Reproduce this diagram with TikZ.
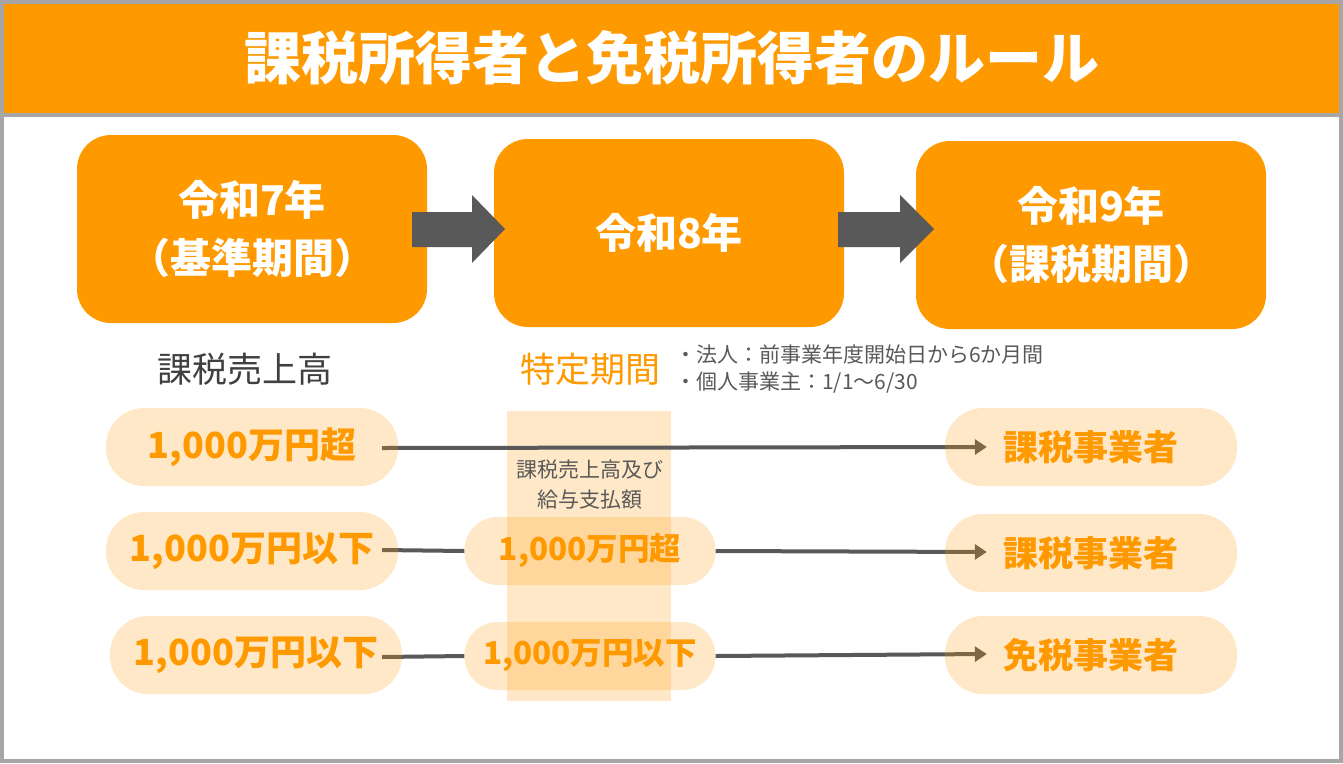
\documentclass[tikz,border=0pt]{standalone}
\usepackage{fontspec}
\setmainfont{Noto Sans CJK JP}
\usetikzlibrary{arrows.meta,calc}
\pgfdeclarelayer{back}
\pgfsetlayers{back,main}
\definecolor{og}{HTML}{FF9900}
\definecolor{frame}{HTML}{A6A6A6}
\definecolor{dk}{HTML}{595959}
\definecolor{tx}{HTML}{404040}
\tikzset{
  yearbox/.style={fill=og, rounded corners=34pt, minimum width=350pt, minimum height=188pt,
    text=white, font=\fontsize{41}{58}\selectfont\bfseries, align=center, inner sep=0pt},
  pill/.style={fill=og, fill opacity=0.22, text opacity=1, rounded corners=38pt,
    minimum width=292pt, minimum height=78pt, text=og, inner sep=0pt,
    font=\fontsize{36}{40}\selectfont\bfseries},
  midpill/.style={pill, minimum width=251pt, minimum height=68pt, rounded corners=33pt,
    font=\fontsize{31.5}{36}\selectfont\bfseries},
  respill/.style={pill, font=\fontsize{35}{40}\selectfont\bfseries},
  conn/.style={draw=dk, line width=4pt},
  connarrow/.style={conn, -{Triangle[length=12pt,width=15pt]}},
  blockarrow/.style={fill=dk},
  smalltext/.style={text=dk, font=\fontsize{21}{29}\selectfont, inner sep=0pt}
}
\begin{document}
\begin{tikzpicture}[x=1pt,y=-1pt]
\useasboundingbox (0,0) rectangle (1343,763);
\begin{pgfonlayer}{back}
\fill[white] (0,0) rectangle (1343,763);
% column overlay
\fill[og, fill opacity=0.22] (507,411) rectangle (671,701);
\end{pgfonlayer}
% title bar
\fill[og] (2,2) rectangle (1341,114);
\draw[frame, line width=4pt] (2,115) -- (1341,115);
\node[text=white, font=\fontsize{57}{60}\selectfont\bfseries] (title) at (672,58) {課税所得者と免税所得者のルール};
% year boxes
\node[yearbox] (y7) at (252,229) {令和7年\\（基準期間）};
\node[yearbox] (y8) at (669,233) {令和8年};
\node[yearbox] (y9) at (1091,235) {令和9年\\（課税期間）};
% block arrows
\fill[blockarrow] (412,212) -- (472,212) -- (472,195) -- (505,229) -- (472,263) -- (472,247) -- (412,247) -- cycle;
\fill[blockarrow] (838,212) -- (900,212) -- (900,195) -- (934,229) -- (900,263) -- (900,247) -- (838,247) -- cycle;
% labels
\node[text=tx, font=\fontsize{35}{40}\selectfont] (uri) at (245,369) {課税売上高};
\node[text=og, font=\fontsize{35}{40}\selectfont] (tokutei) at (590,369) {特定期間};
\node[smalltext, anchor=west] (b1) at (675,354) {・法人：前事業年度開始日から6か月間};
\node[smalltext, anchor=west] (b2) at (675,383) {・個人事業主：1/1〜6/30};
\node[smalltext, align=center, font=\fontsize{21}{30}\selectfont] (coltext) at (590,485) {課税売上高及び\\給与支払額};
% pills
\node[pill] (l1) at (252,447) {1,000万円超};
\node[pill] (l2) at (252,551) {1,000万円以下};
\node[pill] (l3) at (256,655) {1,000万円以下};
\node[midpill] (m2) at (590,551) {1,000万円超};
\node[midpill] (m3) at (590,656) {1,000万円以下};
\node[respill] (r1) at (1091,447) {課税事業者};
\node[respill] (r2) at (1091,553) {課税事業者};
\node[respill] (r3) at (1091,655) {免税事業者};
% connectors (under the translucent pills)
\begin{pgfonlayer}{back}
\draw[connarrow] ($(l1.east)+(-16,1)$) -- ($(r1.west)+(42,0)$);
\draw[conn] ($(l2.east)+(-16,-1)$) -- (m2.west);
\draw[connarrow] (m2.east) -- ($(r2.west)+(42,-1)$);
\draw[conn] ($(l3.east)+(-20,2)$) -- (m3.west);
\draw[connarrow] (m3.east) -- ($(r3.west)+(42,-1)$);
\end{pgfonlayer}
% outer frame
\draw[frame, line width=4pt] (2,2) rectangle (1341,761);
\end{tikzpicture}
\end{document}
